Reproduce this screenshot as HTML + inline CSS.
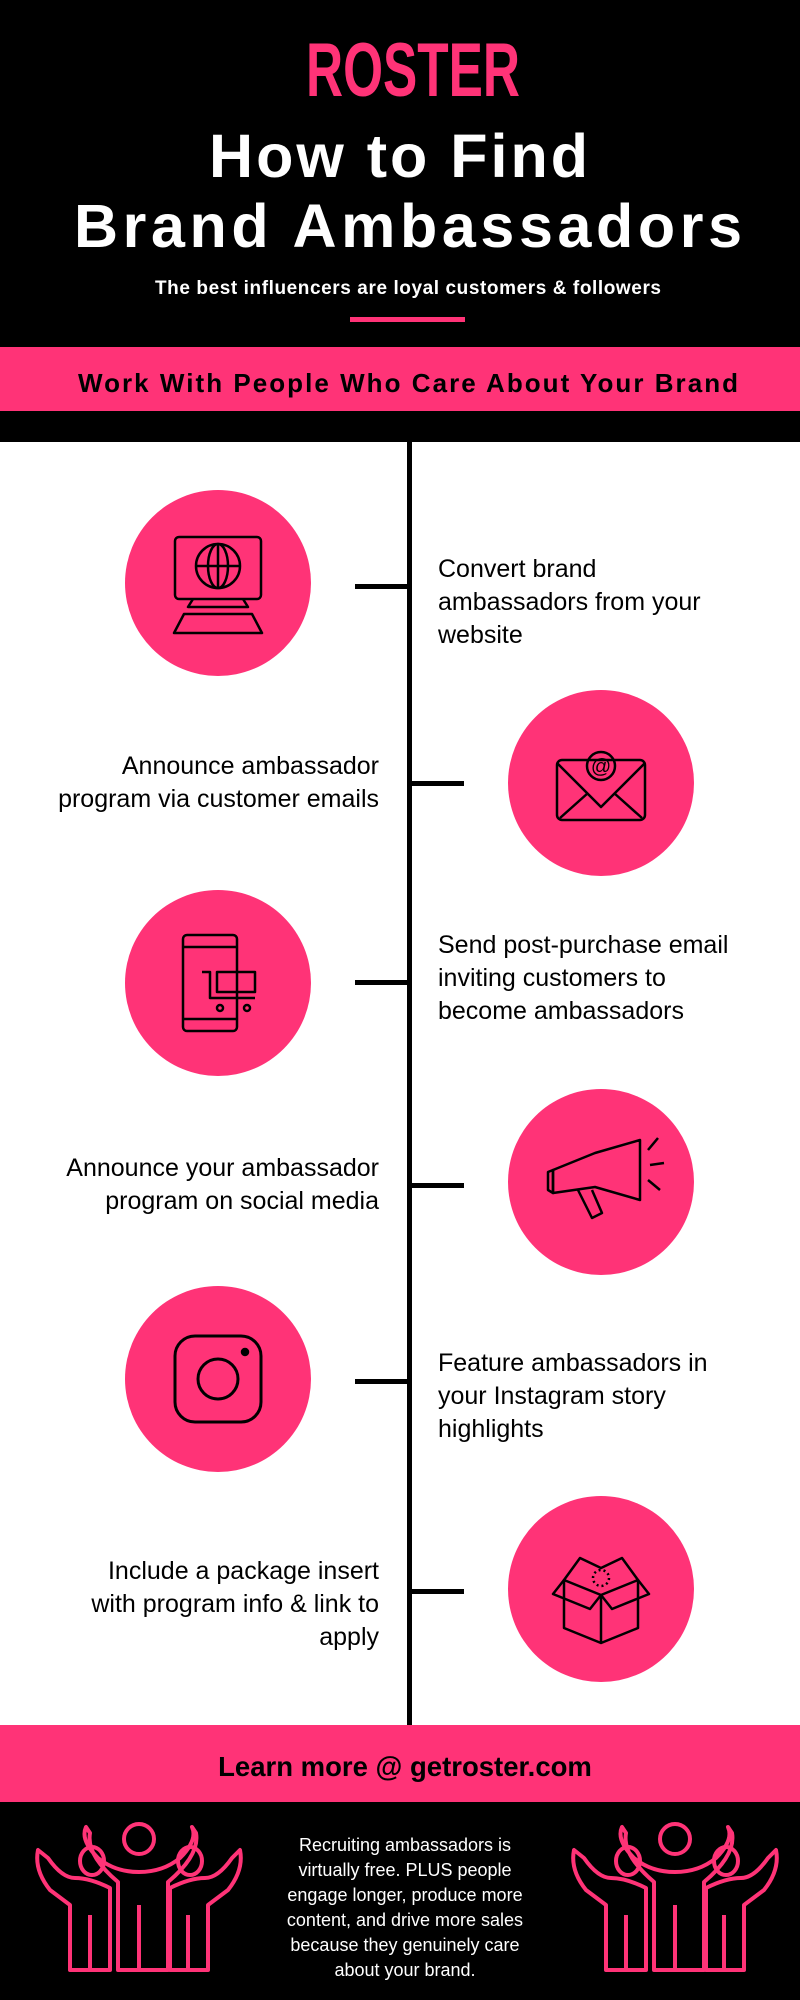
<!DOCTYPE html>
<html><head><meta charset="utf-8"><style>
html,body{margin:0;padding:0;background:#fff}
svg{display:block}
text{font-family:"Liberation Sans",Arial,sans-serif}
</style></head><body>
<svg width="800" height="2000" viewBox="0 0 800 2000" xmlns="http://www.w3.org/2000/svg">
<rect x="0" y="0" width="800" height="442" fill="#000"/>
<text x="413" y="96" text-anchor="middle" font-size="76" font-weight="bold" fill="#ff3377" textLength="214" lengthAdjust="spacingAndGlyphs">ROSTER</text>
<text x="400" y="177" text-anchor="middle" font-size="61" font-weight="bold" fill="#fff" letter-spacing="3">How to Find</text>
<text x="408" y="247" text-anchor="middle" font-size="61" font-weight="bold" fill="#fff" textLength="668" lengthAdjust="spacing">Brand Ambassadors</text>
<text x="408" y="294" text-anchor="middle" font-size="19" font-weight="bold" fill="#fff" textLength="506" lengthAdjust="spacing">The best influencers are loyal customers &amp; followers</text>
<rect x="350" y="317" width="115" height="5" fill="#ff3377"/>
<rect x="0" y="347" width="800" height="64" fill="#ff3377"/>
<text x="408" y="392" text-anchor="middle" font-size="26" font-weight="bold" fill="#000" textLength="660" lengthAdjust="spacing">Work With People Who Care About Your Brand</text>

<rect x="407" y="442" width="5" height="1283" fill="#000"/>
<g fill="#000">
<rect x="355" y="584" width="54" height="5"/>
<rect x="410" y="781" width="54" height="5"/>
<rect x="355" y="980" width="54" height="5"/>
<rect x="410" y="1183" width="54" height="5"/>
<rect x="355" y="1379" width="54" height="5"/>
<rect x="410" y="1589" width="54" height="5"/>
</g>
<g fill="#ff3377">
<circle cx="218" cy="583" r="93"/>
<circle cx="601" cy="783" r="93"/>
<circle cx="218" cy="983" r="93"/>
<circle cx="601" cy="1182" r="93"/>
<circle cx="218" cy="1379" r="93"/>
<circle cx="601" cy="1589" r="93"/>
</g>
<g font-size="25" fill="#000">
<text x="438" y="577">Convert brand</text>
<text x="438" y="610">ambassadors from your</text>
<text x="438" y="643">website</text>
<text x="379" y="774" text-anchor="end">Announce ambassador</text>
<text x="379" y="807" text-anchor="end">program via customer emails</text>
<text x="438" y="953">Send post-purchase email</text>
<text x="438" y="986">inviting customers to</text>
<text x="438" y="1019">become ambassadors</text>
<text x="379" y="1176" text-anchor="end">Announce your ambassador</text>
<text x="379" y="1209" text-anchor="end">program on social media</text>
<text x="438" y="1371">Feature ambassadors in</text>
<text x="438" y="1404">your Instagram story</text>
<text x="438" y="1437">highlights</text>
<text x="379" y="1579" text-anchor="end">Include a package insert</text>
<text x="379" y="1612" text-anchor="end">with program info &amp; link to</text>
<text x="379" y="1645" text-anchor="end">apply</text>
</g>
<g fill="none" stroke="#000" stroke-width="2.5" stroke-linejoin="round">
<rect x="175" y="537" width="86" height="62" rx="4"/>
<circle cx="218" cy="566" r="22"/><ellipse cx="218" cy="566" rx="10" ry="22"/><line x1="196" y1="566" x2="240" y2="566"/><line x1="218" y1="544" x2="218" y2="588"/>
<path d="M193 599 L188 607 L248 607 L243 599"/>
<path d="M184 614 L252 614 L262 633 L174 633 Z"/>
<rect x="557" y="760" width="88" height="60" rx="5"/>
<path d="M557 763 L601 807 L645 763 M560 818 L588 793 M642 818 L614 793"/>
<circle cx="601" cy="766" r="14"/><text x="601" y="773" text-anchor="middle" font-size="20" fill="#000" stroke="none">@</text>
<rect x="183" y="935" width="54" height="96" rx="4"/>
<line x1="183" y1="947" x2="237" y2="947"/><line x1="183" y1="1019" x2="237" y2="1019"/>
<path d="M202 972 L210 972 L210 998 L255 998"/><rect x="217" y="972" width="38" height="20"/>
<circle cx="220" cy="1008" r="3"/><circle cx="247" cy="1008" r="3"/>
<path d="M553 1170 L595 1153 L640 1140 L640 1200 L595 1187 L553 1193 Z"/>
<path d="M548 1172 L553 1170 L553 1193 L548 1190 Z"/>
<path d="M578 1190 L592 1218 L602 1213 L592 1190"/>
<line x1="648" y1="1150" x2="658" y2="1138"/><line x1="650" y1="1165" x2="664" y2="1163"/><line x1="648" y1="1180" x2="660" y2="1190"/>
<rect x="175" y="1336" width="86" height="86" rx="20" stroke-width="3"/>
<circle cx="218" cy="1379" r="20" stroke-width="3"/>
<circle cx="245" cy="1352" r="3" fill="#000"/>
<path d="M564 1580 L601 1595 L638 1580 L638 1628 L601 1643 L564 1628 Z"/>
<line x1="601" y1="1595" x2="601" y2="1643"/>
<path d="M564 1580 L580 1558 L601 1568 L622 1558 L638 1580"/>
<path d="M564 1580 L553 1594 L590 1609 L601 1595 M638 1580 L649 1594 L612 1609 L601 1595"/>
<circle cx="601" cy="1578" r="8" stroke-dasharray="2 3"/>
</g>

<rect x="0" y="1725" width="800" height="77" fill="#ff3377"/>
<text x="405" y="1776" text-anchor="middle" font-size="27.5" font-weight="bold" fill="#000">Learn more @ getroster.com</text>
<rect x="0" y="1802" width="800" height="198" fill="#000"/>
<g font-size="18" fill="#fff" text-anchor="middle">
<text x="405" y="1851">Recruiting ambassadors is</text>
<text x="405" y="1876">virtually free. PLUS people</text>
<text x="405" y="1901">engage longer, produce more</text>
<text x="405" y="1926">content, and drive more sales</text>
<text x="405" y="1951">because they genuinely care</text>
<text x="405" y="1976">about your brand.</text>
</g>
<defs>
<g id="ppl" fill="none" stroke="#ff3377" stroke-width="4" stroke-linejoin="round">
<ellipse cx="139" cy="1839" rx="15" ry="15"/>
<ellipse cx="92" cy="1861" rx="12" ry="14"/>
<ellipse cx="190" cy="1861" rx="12" ry="14"/>
<path d="M86 1827 Q80 1840 98 1858 Q115 1872 139 1872 Q163 1872 180 1858 Q198 1840 192 1827 L196 1833 Q200 1855 168 1882 L168 1970 L118 1970 L118 1882 Q86 1855 90 1833 Z"/>
<path d="M38 1850 Q34 1870 50 1890 L70 1905 L70 1970 L110 1970 L110 1888 Q90 1878 75 1878 Q62 1878 48 1858 Z"/>
<path d="M240 1850 Q244 1870 228 1890 L208 1905 L208 1970 L170 1970 L170 1888 Q190 1878 205 1878 Q218 1878 232 1858 Z"/>
<line x1="139" y1="1905" x2="139" y2="1968"/><line x1="90" y1="1915" x2="90" y2="1968"/><line x1="188" y1="1915" x2="188" y2="1968"/>
</g>
</defs>
<use href="#ppl"/>
<use href="#ppl" transform="translate(536,0)"/>
</svg>
</body></html>
